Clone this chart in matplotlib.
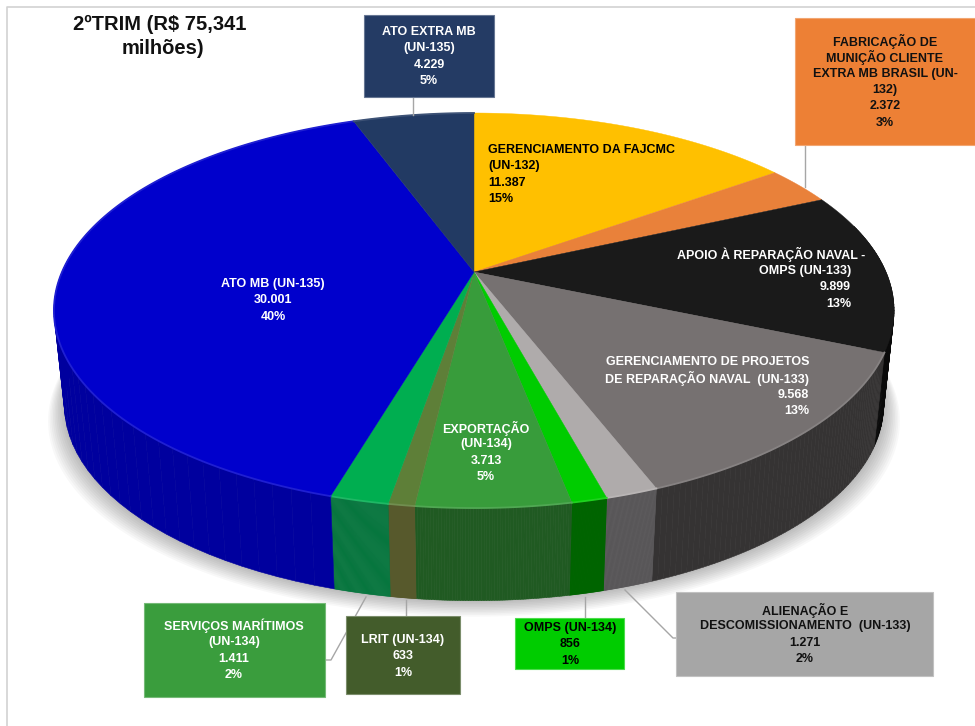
import numpy as np
import matplotlib
matplotlib.use("Agg")
import matplotlib.pyplot as plt
from matplotlib.patches import Polygon, Rectangle

plt.rcParams['font.family'] = ['Liberation Sans', 'DejaVu Sans']

# dados, sentido horario a partir das 12h
nomes = ["GERENCIAMENTO DA FAJCMC", "FABRICAÇÃO DE MUNIÇÃO", "APOIO À REPARAÇÃO NAVAL", "GERENCIAMENTO DE PROJETOS",
         "ALIENAÇÃO", "OMPS", "EXPORTAÇÃO", "LRIT", "SERVIÇOS MARÍTIMOS", "ATO MB", "ATO EXTRA MB"]
valores = [11387, 2372, 9899, 9568, 1271, 856, 3713, 633, 1411, 30001, 4229]
percent = [15, 3, 13, 13, 2, 1, 5, 1, 2, 40, 5]
cor_topo = ["#FFC000", "#E9813A", "#1A1A1A", "#767171", "#AFABAB", "#00CC00",
            "#389C3B", "#5E7F38", "#00AE50", "#0000CC", "#223A63"]
cor_lado = ["#B08500", "#A0521C", "#0A0A0A", "#353333", "#585658", "#006400",
            "#205A22", "#57592C", "#06763E", "#00009E", "#14233D"]


def fmt(v):
    return f"{v:,}".replace(",", ".")


def clarear(c, f):
    r = np.array(matplotlib.colors.to_rgb(c))
    return tuple(r + (1 - r) * f)


# perspectiva do disco
cx, cy = 474, 272
k, a, b = 0.195, 412, 190
desce, esc_x, esc_y = 95, 0.975, 0.99


def topo(t):
    d = 1 + k * np.cos(t)
    return cx + a * np.sin(t) / d, cy - b * np.cos(t) / d


def base(t):
    d = 1 + k * np.cos(t)
    return cx + esc_x * a * np.sin(t) / d, cy + desce - esc_y * b * np.cos(t) / d


fig = plt.figure(figsize=(9.75, 7.26), dpi=100)
ax = fig.add_axes([0, 0, 1, 1])
ax.set_xlim(0, 975)
ax.set_ylim(726, 0)
ax.axis("off")

# moldura
ax.plot([7, 7, 975], [726, 7, 7], color="#D2D2D2", lw=1.2, zorder=1)

# sombra
t_all = np.linspace(0, 2 * np.pi, 400)
for i in range(10, 0, -1):
    xs, ys = base(t_all)
    xs = cx + (xs - cx) * (1 + i * 0.004)
    ys = ys + i * 1.6
    ax.add_patch(Polygon(np.c_[xs, ys], color="black", alpha=0.028, lw=0, zorder=2))

limites = np.concatenate([[0], np.cumsum(valores)]) / np.sum(valores) * 2 * np.pi

# parede lateral
for i in range(len(valores)):
    t = np.linspace(limites[i], limites[i + 1], 60)
    for t0, t1 in zip(t[:-1], t[1:]):
        if np.cos((t0 + t1) / 2) > 0.25:
            continue
        x0, y0 = topo(t0)
        x1, y1 = topo(t1)
        x2, y2 = base(t1)
        x3, y3 = base(t0)
        ax.add_patch(Polygon([(x0, y0), (x1, y1), (x2, y2), (x3, y3)], facecolor=cor_lado[i],
                             edgecolor=cor_lado[i], lw=0.4, zorder=3))

# topo
for i in range(len(valores)):
    t = np.linspace(limites[i], limites[i + 1], 120)
    xs, ys = topo(t)
    pts = np.vstack([[cx, cy], np.c_[xs, ys]])
    ax.add_patch(Polygon(pts, facecolor=cor_topo[i], edgecolor=cor_topo[i], lw=0.3, zorder=4))
    if i >= 3:
        ax.plot(xs, ys, color=clarear(cor_topo[i], 0.12), lw=1.3, zorder=5)

# caixas
caixas = [(364, 15, 130, 82, "#243B64"), (795, 18, 180, 127, "#ED8035"), (144, 603, 181, 94, "#3A9D3D"),
          (346, 616, 114, 78, "#435C2B"), (515, 618, 109, 51, "#00CC00"), (676, 592, 257, 84, "#A6A6A6")]
for x, y, w, h, c in caixas:
    ax.add_patch(Rectangle((x, y), w, h, facecolor=c, edgecolor=clarear(c, 0.3), lw=0.8, zorder=6))

# linhas de chamada
chamadas = [([413, 413], [97, 115]), ([805, 805], [145, 187]), ([325, 331, 366], [660, 660, 597]),
            ([406, 406], [600, 616]), ([585, 585], [597, 618]), ([625, 673, 676], [590, 638, 638])]
for xs, ys in chamadas:
    ax.plot(xs, ys, color="#A6A6A6", lw=1, zorder=5)


def rotulo(linhas, x, y0, cor, ha="center", passo=16.3):
    for n, l in enumerate(linhas):
        ax.text(x, y0 + n * passo, l, color=cor, ha=ha, va="center", fontsize=9,
                fontweight="bold", zorder=7)


def val(i):
    return [fmt(valores[i]), f"{percent[i]}%"]


rotulo(["GERENCIAMENTO DA FAJCMC", "(UN-132)"] + val(0), 488, 150, "black", ha="left")
rotulo(["FABRICAÇÃO DE", "MUNIÇÃO CLIENTE", "EXTRA MB BRASIL (UN-", "132)"] + val(1), 885, 41, "#111111")
ax.text(865, 254, "APOIO À REPARAÇÃO NAVAL -", color="white", ha="right", va="center", fontsize=9,
        fontweight="bold", zorder=7)
rotulo(["OMPS (UN-133)"] + val(2), 851, 271, "white", ha="right")
rotulo(["GERENCIAMENTO DE PROJETOS", "DE REPARAÇÃO NAVAL  (UN-133)"] + val(3), 809, 362, "white", ha="right")
rotulo(["ALIENAÇÃO E", "DESCOMISSIONAMENTO  (UN-133)"] + val(4), 805, 610, "#111111")
rotulo(["OMPS (UN-134)"] + val(5), 570, 628, "black")
rotulo(["EXPORTAÇÃO", "(UN-134)"] + val(6), 486, 428, "white")
rotulo(["LRIT (UN-134)"] + val(7), 403, 640, "white")
rotulo(["SERVIÇOS MARÍTIMOS", "(UN-134)"] + val(8), 234, 626, "white")
rotulo(["ATO MB (UN-135)"] + val(9), 273, 284, "white")
rotulo(["ATO EXTRA MB", "(UN-135)"] + val(10), 429, 32, "white")

ax.text(160, 24, "2ºTRIM (R$ 75,341", ha="center", va="center", fontsize=14.5, fontweight="bold", color="#111111", zorder=7)
ax.text(163, 49, "milhões)", ha="center", va="center", fontsize=14.5, fontweight="bold", color="#111111", zorder=7)

fig.savefig("out.png", dpi=100)
